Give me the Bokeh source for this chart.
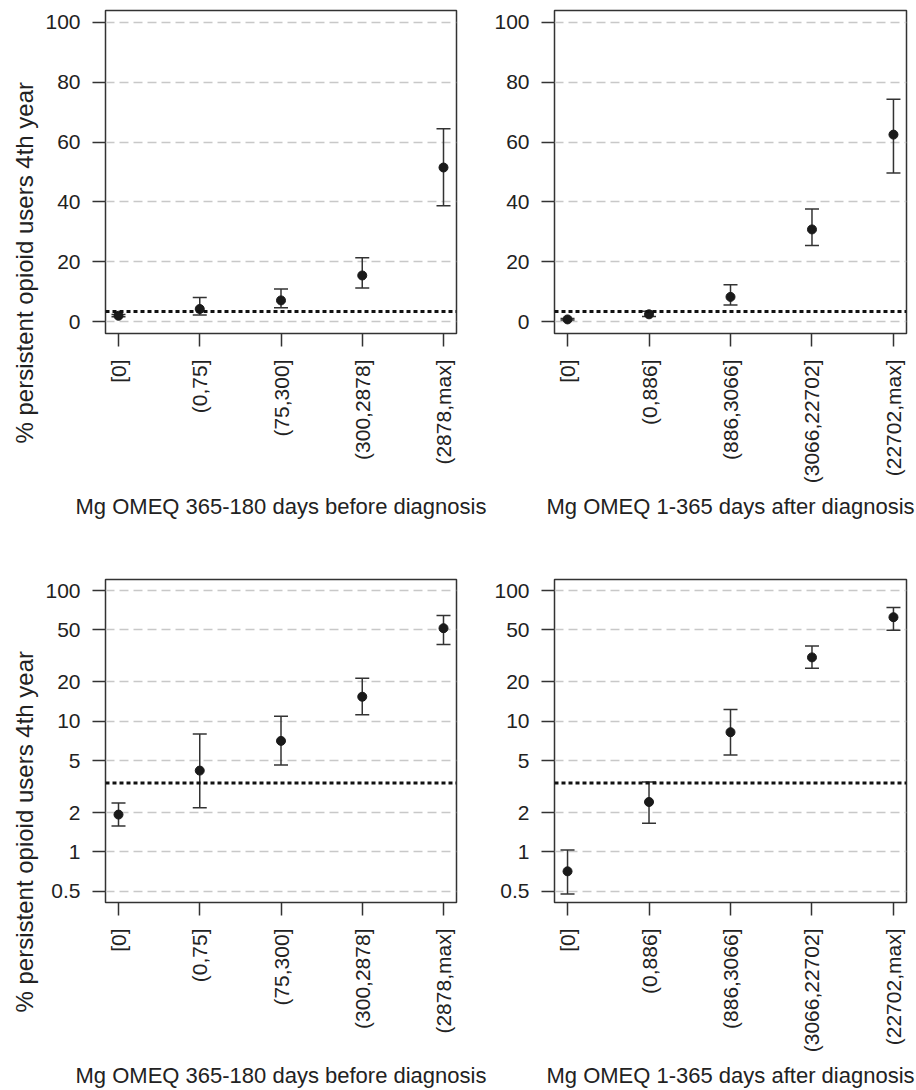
import math
from bokeh.plotting import figure
from bokeh.layouts import column, row
from bokeh.models import (Range1d, FixedTicker, Whisker, TeeHead, ColumnDataSource,
                          Span, Title, CustomJSTickFormatter)
from bokeh.embed import file_html
from bokeh.resources import INLINE

# ---------------- data ----------------
labels_before = ["[0]", "(0,75]", "(75,300]", "(300,2878]", "(2878,max]"]
labels_after = ["[0]", "(0,886]", "(886,3066]", "(3066,22702]", "(22702,max]"]

est_before = [1.93, 4.19, 7.07, 15.4, 51.5]
lo_before = [1.58, 2.18, 4.63, 11.2, 38.7]
hi_before = [2.37, 8.0, 10.9, 21.3, 64.5]

est_after = [0.71, 2.41, 8.24, 30.8, 62.5]
lo_after = [0.477, 1.66, 5.52, 25.4, 49.7]
hi_after = [1.035, 3.43, 12.3, 37.6, 74.3]

reference_pct = 3.36

ticks_linear = [0, 20, 40, 60, 80, 100]
ticks_log = [0.5, 1, 2, 5, 10, 20, 50, 100]

y_title = "% persistent opioid users 4th year"
x_title_before = "Mg OMEQ 365-180 days before diagnosis"
x_title_after = "Mg OMEQ 1-365 days after diagnosis"

FONT = "Liberation Sans"
TXT = "#222222"
DARK = "#333333"


def make_panel(labels, est, lo, hi, log, xtitle, show_ytitle, borders, title_standoff):
    bl, br, bt, bb = borders
    kw = dict(y_axis_type="log", y_range=Range1d(0.41, 121.5)) if log else \
        dict(y_range=Range1d(-4, 104))
    p = figure(frame_width=351 if show_ytitle else 352, frame_height=323,
               x_range=Range1d(0.84, 5.16), output_backend="svg",
               toolbar_location=None, min_border_left=bl, min_border_right=br,
               min_border_top=bt, min_border_bottom=bb, background_fill_color="white",
               border_fill_color="white", **kw)
    xs = list(range(1, len(labels) + 1))
    src = ColumnDataSource(dict(x=xs, est=est, lo=lo, hi=hi))

    # grid
    yt = ticks_log if log else ticks_linear
    p.yaxis.ticker = FixedTicker(ticks=yt)
    p.ygrid.ticker = FixedTicker(ticks=yt)
    p.ygrid.grid_line_color = "#c8c8c8"
    p.ygrid.grid_line_dash = "9 5"
    p.ygrid.grid_line_width = 1.3
    p.xgrid.grid_line_color = None

    # y axis
    p.yaxis.formatter = CustomJSTickFormatter(code="return String(tick);")
    p.yaxis.axis_line_color = None
    p.yaxis.major_tick_out = 13
    p.yaxis.major_tick_in = 0
    p.yaxis.minor_tick_line_color = None
    p.yaxis.major_tick_line_color = DARK
    p.yaxis.major_tick_line_width = 1.5
    p.yaxis.major_label_standoff = 12
    p.yaxis.major_label_text_font = FONT
    p.yaxis.major_label_text_font_size = "21px"
    p.yaxis.major_label_text_color = TXT

    # x axis
    p.xaxis.ticker = FixedTicker(ticks=xs)
    p.xaxis.major_label_overrides = {x: lab for x, lab in zip(xs, labels)}
    p.xaxis.major_label_orientation = math.pi / 2
    p.xaxis.axis_line_color = None
    p.xaxis.major_tick_out = 13
    p.xaxis.major_tick_in = 0
    p.xaxis.minor_tick_line_color = None
    p.xaxis.major_tick_line_color = DARK
    p.xaxis.major_tick_line_width = 1.5
    p.xaxis.major_label_standoff = 13
    p.xaxis.major_label_text_font = FONT
    p.xaxis.major_label_text_font_size = "21px"
    p.xaxis.major_label_text_color = TXT
    p.xaxis.axis_label = xtitle
    p.xaxis.axis_label_text_font = FONT
    p.xaxis.axis_label_text_font_size = "22px"
    p.xaxis.axis_label_text_font_style = "normal"
    p.xaxis.axis_label_text_color = TXT
    p.xaxis.axis_label_standoff = title_standoff

    p.outline_line_color = DARK
    p.outline_line_width = 1.5
    p.outline_line_alpha = 1

    # reference line
    p.add_layout(Span(location=reference_pct, dimension="width", line_color="#111111",
                      line_width=3, line_dash="4 3"))

    # error bars
    p.add_layout(Whisker(source=src, base="x", upper="hi", lower="lo", dimension="height",
                         line_color=DARK, line_width=1.5,
                         upper_head=TeeHead(size=14, line_color=DARK, line_width=1.5),
                         lower_head=TeeHead(size=14, line_color=DARK, line_width=1.5)))
    p.scatter("x", "est", source=src, size=9, color="#1a1a1a")

    if show_ytitle:
        p.add_layout(Title(text=y_title, align="left", offset=-110, standoff=10,
                           text_font=FONT, text_font_size="24px", text_font_style="normal",
                           text_color=TXT), "left")
    return p


p1 = make_panel(labels_before, est_before, lo_before, hi_before, False, x_title_before,
                True, (105, 34, 10, 226), 26)
p2 = make_panel(labels_after, est_after, lo_after, hi_after, False, x_title_after,
                False, (64, 10, 10, 226), 8)
p3 = make_panel(labels_before, est_before, lo_before, hi_before, True, x_title_before,
                True, (105, 34, 20, 188), 26)
p4 = make_panel(labels_after, est_after, lo_after, hi_after, True, x_title_after,
                False, (64, 10, 20, 188), 8)

layout = column(row(p1, p2), row(p3, p4))
open("out.html", "w").write(file_html(layout, INLINE))
